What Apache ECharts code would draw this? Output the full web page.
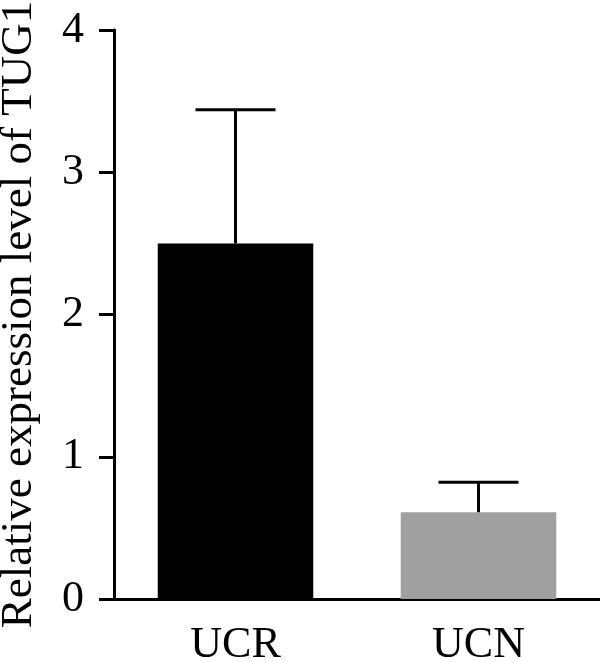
<!DOCTYPE html>
<html>
<head>
<meta charset="utf-8">
<script src="https://cdn.jsdelivr.net/npm/echarts@6/dist/echarts.min.js"></script>
<style>
  html, body { margin: 0; padding: 0; background: #fff; }
  #main { width: 600px; height: 662px; }
</style>
</head>
<body>
<div id="main"></div>
<script>
// groups and measured values (mean and upper error)
const categories = ["UCR", "UCN"];
const means = [2.5, 0.61];
const errors = [0.94, 0.21];
const barColors = ["#000000", "#a0a0a0"];
const yTicks = [0, 1, 2, 3, 4];

const chart = echarts.init(document.getElementById("main"));
const font = "'Liberation Serif', 'Times New Roman', serif";

const option = {
  animation: false,
  grid: { left: 114, right: 0, top: 30, bottom: 63, containLabel: false, outerBoundsMode: "none" },
  xAxis: {
    type: "category",
    data: categories,
    axisLine: { lineStyle: { color: "#000", width: 3 } },
    axisTick: { alignWithLabel: true, length: 15, lineStyle: { color: "#000", width: 3 } },
    axisLabel: { color: "#000", fontFamily: font, fontSize: 44, margin: 24 }
  },
  yAxis: {
    type: "value",
    min: yTicks[0],
    max: yTicks[yTicks.length - 1],
    interval: 1,
    name: "Relative expression level of TUG1",
    nameLocation: "middle",
    nameGap: 72,
    nameTextStyle: { color: "#000", fontFamily: font, fontSize: 45 },
    splitLine: { show: false },
    axisLine: { show: true, lineStyle: { color: "#000", width: 3 } },
    axisTick: { show: true, length: 15, lineStyle: { color: "#000", width: 3 } },
    axisLabel: { color: "#000", fontFamily: font, fontSize: 44, margin: 30 }
  },
  series: [
    {
      type: "bar",
      barWidth: "64%",
      data: means.map((v, i) => ({ value: v, itemStyle: { color: barColors[i] } })),
      z: 2
    },
    {
      type: "custom",
      z: 3,
      data: means.map((v, i) => [i, v, v + errors[i]]),
      renderItem: function (params, api) {
        const base = api.coord([api.value(0), api.value(1)]);
        const top = api.coord([api.value(0), api.value(2)]);
        const half = 40;
        const style = { stroke: "#000", lineWidth: 3 };
        return {
          type: "group",
          children: [
            { type: "line", shape: { x1: base[0], y1: base[1], x2: top[0], y2: top[1] }, style },
            { type: "line", shape: { x1: top[0] - half, y1: top[1], x2: top[0] + half, y2: top[1] }, style }
          ]
        };
      }
    }
  ]
};
chart.setOption(option);
</script>
</body>
</html>
